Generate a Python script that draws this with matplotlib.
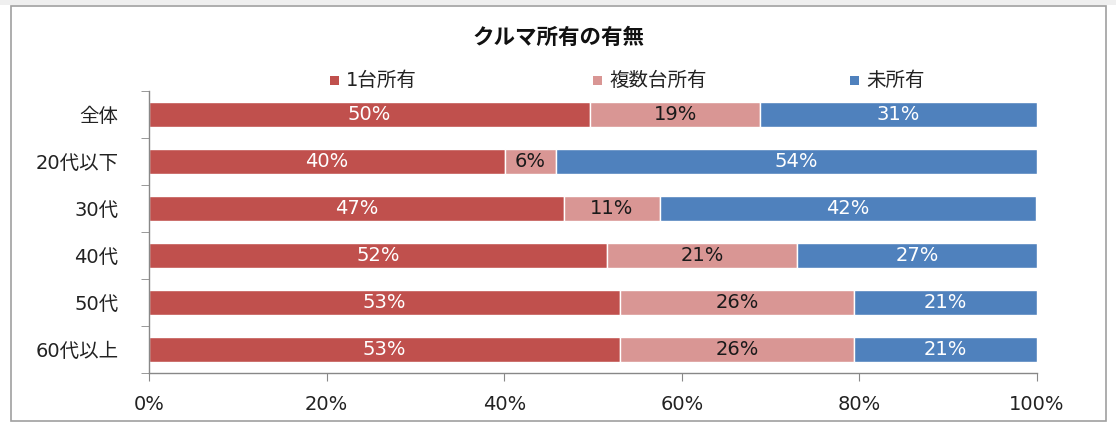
import matplotlib
matplotlib.use("Agg")
import matplotlib.pyplot as plt
from matplotlib.patches import Rectangle
import numpy as np

plt.rcParams['font.family'] = ['DejaVu Sans', 'Noto Sans CJK JP']

categories = ['全体', '20代以下', '30代', '40代', '50代', '60代以上']
series_names = ['1台所有', '複数台所有', '未所有']
one_car = [49.7, 40.1, 46.7, 51.6, 53.0, 53.0]
multi_car = [19.1, 5.7, 10.8, 21.4, 26.4, 26.4]
no_car = [31.2, 54.2, 42.4, 27.0, 20.6, 20.6]
xtick_labels = ['0%', '20%', '40%', '60%', '80%', '100%']

colors = ['#C0504D', '#D99694', '#4F81BD']
label_colors = ['white', '#1a1a1a', 'white']

W, H = 1116, 443
fig = plt.figure(figsize=(W / 100, H / 100), dpi=100)
fig.patch.set_facecolor('white')

# screenshot top strip and chart border
fig.add_artist(Rectangle((0, 1 - 5 / H), 1, 5 / H, transform=fig.transFigure,
                         facecolor='#EFEFEF', edgecolor='none', zorder=0))
fig.add_artist(Rectangle((11 / W, 1 - 421 / H), (1106 - 11) / W, (421 - 6) / H,
                         transform=fig.transFigure, facecolor='none',
                         edgecolor='#A0A0A0', linewidth=1.2, zorder=1))

ax = fig.add_axes([149 / W, 1 - 373 / H, (1037 - 149) / W, (373 - 91) / H])

y = np.arange(len(categories))
data = [one_car, multi_car, no_car]
left = np.zeros(len(categories))
for vals, c, lc, name in zip(data, colors, label_colors, series_names):
    vals = np.array(vals)
    ax.barh(y, vals, left=left, height=0.53, color=c, edgecolor='white',
            linewidth=1.0, label=name)
    for yi, (l, v) in enumerate(zip(left, vals)):
        ax.text(l + v / 2, yi, f"{v:.0f}%", ha='center', va='center',
                color=lc, fontsize=14)
    left += vals

ax.set_xlim(0, 100)
ax.set_ylim(len(categories) - 0.5, -0.5)
ax.set_xticks([0, 20, 40, 60, 80, 100])
ax.set_xticklabels(xtick_labels, fontsize=14, color='#222222')
ax.set_yticks(y)
ax.set_yticklabels(categories, fontsize=14, color='#222222')
ax.set_yticks(np.arange(len(categories) + 1) - 0.5, minor=True)
ax.tick_params(axis='y', which='major', length=0, pad=22)
ax.tick_params(axis='y', which='minor', length=6, color='#888888', direction='out')
ax.tick_params(axis='x', length=6, color='#888888', direction='out', pad=10)
for s in ['top', 'right']:
    ax.spines[s].set_visible(False)
for s in ['left', 'bottom']:
    ax.spines[s].set_color('#888888')
    ax.spines[s].set_linewidth(1.0)

fig.text(558 / W, 1 - 38 / H, 'クルマ所有の有無', ha='center', va='center',
         fontsize=15.5, fontweight='bold', color='#111111')

# legend (manual placement, Excel-style equal slots)
leg_x = [330, 593, 850]
for lx, name, c in zip(leg_x, series_names, colors):
    fig.add_artist(Rectangle((lx / W, 1 - 85 / H), 9 / W, 9 / H,
                             transform=fig.transFigure, facecolor=c,
                             edgecolor='none'))
    fig.text((lx + 16) / W, 1 - 80 / H, name, ha='left', va='center',
             fontsize=14, color='#222222')

fig.savefig('out.png', dpi=100)
